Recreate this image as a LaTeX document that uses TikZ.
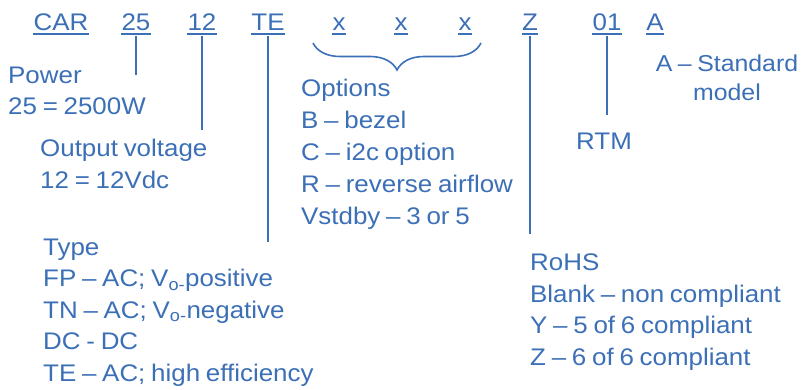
\documentclass[tikz,border=0pt]{standalone}
\usepackage{fontspec}
\setmainfont{Liberation Sans}[FakeStretch=1.08, WordSpace=0.8]
\usetikzlibrary{decorations.pathreplacing}

\begin{document}
\begin{tikzpicture}[x=1pt, y=-1pt]
\definecolor{codeBlue}{HTML}{3B6FB6}

\tikzset{
    code/.style={
        inner sep=0pt, anchor=base, text=codeBlue,
        font=\fontsize{24}{31.5}\selectfont,
    },
    % anchored at the baseline of the last line
    legend/.style={
        inner sep=0pt, anchor=base west, align=left, text=codeBlue,
        font=\fontsize{24}{31.5}\selectfont,
    },
    uline/.style={draw=codeBlue, line width=2.2pt},
    leader/.style={draw=codeBlue, line width=1.8pt},
    optbrace/.style={draw=codeBlue, line width=1.6pt,
        decorate, decoration={brace, mirror, amplitude=27pt}},
}

\useasboundingbox (0,0) rectangle (803,390);

% part number fields
\node[code] (car) at (61,31) {CAR};
\node[code] (power) at (136,31) {25};
\node[code] (volt) at (202,31) {12};
\node[code] (type) at (268,31) {TE};
\node[code] (optA) at (339,31) {x};
\node[code] (optB) at (401,31) {x};
\node[code] (optC) at (465,31) {x};
\node[code] (rohs) at (530,31) {Z};
\node[code] (rtm) at (607,31) {01};
\node[code] (model) at (655,31) {A};

\foreach \f in {car, power, volt, type, optA, optB, optC, rohs, rtm, model}
    \draw[uline] ([yshift=-3pt]\f.base west) -- ([yshift=-3pt]\f.base east);

% explanations
\node[legend] (powerTxt) at (8,115) {Power\\25 = 2500W};
\node[legend] (voltTxt) at (40,188.5) {Output voltage\\12 = 12Vdc};
\node[legend, font=\fontsize{24}{32}\selectfont] (optTxt) at (301,225)
    {Options\\B -- bezel\\C -- i2c option\\R -- reverse airflow\\Vstdby -- 3 or 5};
\node[legend] (typeTxt) at (43,381) {Type\\FP -- AC; V\textsubscript{o-}positive\\TN -- AC; V\textsubscript{o-}negative\\DC - DC\\TE -- AC; high efficiency};
\node[legend] (rohsTxt) at (530,365) {RoHS\\Blank -- non compliant\\Y -- 5 of 6 compliant\\Z -- 6 of 6 compliant};
\node[code] (rtmTxt) at (604,150) {RTM};
\node[legend, anchor=base, align=center, font=\fontsize{23}{29}\selectfont]
    (modelTxt) at (727,101) {A -- Standard\\model};

% leader ends
\coordinate (powerEnd) at (136,75);
\coordinate (voltEnd) at (202,130);
\coordinate (typeEnd) at (268,242);
\coordinate (rohsEnd) at (530,234);
\coordinate (rtmEnd) at (607,115);
\coordinate (braceL) at (313,43);
\coordinate (braceR) at (481,43);

\draw[leader] ([yshift=-5pt]power.base) -- (powerEnd);
\draw[leader] ([yshift=-5pt]volt.base) -- (voltEnd);
\draw[leader] ([yshift=-5pt]type.base) -- (typeEnd);
\draw[leader] ([yshift=-5pt]rohs.base) -- (rohsEnd);
\draw[leader] ([yshift=-5pt]rtm.base) -- (rtmEnd);
\draw[optbrace] (braceL) -- (braceR);

\end{tikzpicture}
\end{document}
